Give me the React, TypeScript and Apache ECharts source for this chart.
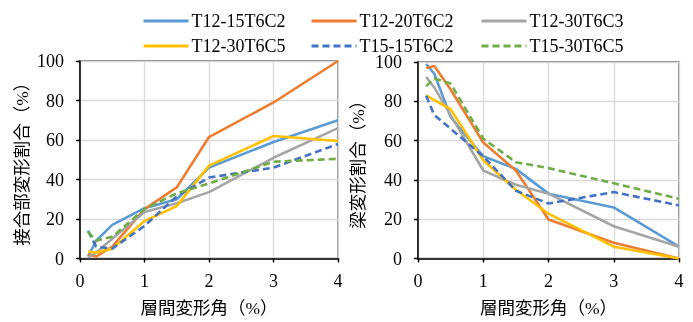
import React, { useEffect, useRef } from "react";
import * as echarts from "echarts";

const drift = [0.125, 0.25, 0.5, 1, 1.5, 2, 3, 4];
const xTicks = [0, 1, 2, 3, 4];
const yTicks = [0, 20, 40, 60, 80, 100];

const names = ["T12-15T6C2", "T12-20T6C2", "T12-30T6C3", "T12-30T6C5", "T15-15T6C2", "T15-30T6C5"];

// 接合部変形割合 (%)
const jointT12_15T6C2 = [1, 9, 17, 25.5, 30, 46, 59, 70];
const jointT12_20T6C2 = [2, 1, 6, 25, 36, 61.5, 79, 100];
const jointT12_30T6C3 = [0.5, 3, 10, 23.5, 28, 33.6, 51, 66];
const jointT12_30T6C5 = [3.5, 3, 5, 19, 26.5, 47, 62, 59.5];
const jointT15_15T6C2 = [14, 6, 5, 16.5, 31.5, 41, 46, 58];
const jointT15_30T6C5 = [13.5, 9, 11, 25, 33, 38, 49, 50.5];

// 梁変形割合 (%)
const beamT12_15T6C2 = [99, 94, 72, 52, 45.6, 33, 26, 6];
const beamT12_20T6C2 = [97, 98, 86, 59, 44.8, 19.8, 8, 0];
const beamT12_30T6C3 = [92.4, 87, 73, 44.8, 37.5, 33, 16.4, 6];
const beamT12_30T6C5 = [83, 80.6, 76, 50, 35, 22.8, 6, 0];
const beamT15_15T6C2 = [82.8, 73, 66, 52, 34.5, 28, 33.8, 27];
const beamT15_30T6C5 = [87.7, 91.6, 89, 61, 49, 46, 38.3, 30.4];

const jointData = [jointT12_15T6C2, jointT12_20T6C2, jointT12_30T6C3, jointT12_30T6C5, jointT15_15T6C2, jointT15_30T6C5];
const beamData = [beamT12_15T6C2, beamT12_20T6C2, beamT12_30T6C3, beamT12_30T6C5, beamT15_15T6C2, beamT15_30T6C5];

const colors = ["#5B9BD5", "#ED7D31", "#A5A5A5", "#FFC000", "#4472C4", "#70AD47"];
const dashed = [false, false, false, false, true, true];

const SERIF = "Times New Roman, Liberation Serif, DejaVu Serif, serif";
const CJK = "Times New Roman, Liberation Serif, Noto Sans CJK JP, sans-serif";

export default function App() {
  const ref = useRef<HTMLDivElement>(null);
  useEffect(() => {
    if (!ref.current) return;
    const chart = echarts.init(ref.current, undefined, { renderer: "svg" });

    const grids = [
      { left: 80, top: 61, width: 258, height: 199.5, show: true, borderColor: "#595959", borderWidth: 1.3, backgroundColor: "transparent" },
      { left: 418, top: 62, width: 261, height: 199, show: true, borderColor: "#595959", borderWidth: 1.3, backgroundColor: "transparent" },
    ];

    const xAxes: any[] = [];
    const yAxes: any[] = [];
    [0, 1].forEach((g) => {
      xAxes.push({
        type: "value", gridIndex: g, min: xTicks[0], max: xTicks[xTicks.length - 1], interval: 1,
        name: "層間変形角（%）", nameLocation: "middle", nameGap: 41,
        nameTextStyle: { fontFamily: CJK, fontSize: 17.5, color: "#000" },
        axisLine: { show: true, lineStyle: { color: "#000", width: 1.5 } },
        axisTick: { show: true, length: 4, lineStyle: { color: "#000", width: 1.3 } },
        axisLabel: { fontFamily: SERIF, fontSize: 18, color: "#000", margin: 13 },
        splitLine: { show: true, lineStyle: { color: "#D9D9D9", width: 1.3 } },
      });
      xAxes.push({
        type: "value", gridIndex: g, min: xTicks[0], max: xTicks[xTicks.length - 1], interval: 1,
        axisLine: { show: false }, axisLabel: { show: false }, splitLine: { show: false },
        axisTick: { show: true, inside: true, length: 3, lineStyle: { color: "#000", width: 1.3 } },
      });
      yAxes.push({
        type: "value", gridIndex: g, min: yTicks[0], max: yTicks[yTicks.length - 1], interval: 20,
        name: g === 0 ? "接合部変形割合（%）" : "梁変形割合（%）",
        nameLocation: "middle", nameRotate: 90, nameGap: g === 0 ? 49 : 51,
        nameTextStyle: { fontFamily: CJK, fontSize: 17.5, color: "#000" },
        axisLine: { show: true, lineStyle: { color: "#000", width: 1.5 } },
        axisTick: { show: true, length: 4, lineStyle: { color: "#000", width: 1.3 } },
        axisLabel: { fontFamily: SERIF, fontSize: 18, color: "#000", margin: 16 },
        splitLine: { show: true, lineStyle: { color: "#D9D9D9", width: 1.3 } },
      });
      yAxes.push({
        type: "value", gridIndex: g, min: yTicks[0], max: yTicks[yTicks.length - 1], interval: 20,
        axisLine: { show: false }, axisLabel: { show: false }, splitLine: { show: false },
        axisTick: { show: true, inside: true, length: 3, lineStyle: { color: "#000", width: 1.3 } },
      });
    });

    const series: any[] = [];
    [jointData, beamData].forEach((set, g) => {
      set.forEach((vals, i) => {
        series.push({
          type: "line",
          name: names[i],
          xAxisIndex: g * 2,
          yAxisIndex: g * 2,
          symbol: "none",
          showSymbol: false,
          data: vals.map((v, k) => [drift[k], v]),
          lineStyle: { color: colors[i], width: 2.6, type: dashed[i] ? [7, 4] : "solid" },
          itemStyle: { color: colors[i] },
        });
      });
    });

    const legendCols = [
      { left: 137, data: [names[0], names[3]] },
      { left: 305, data: [names[1], names[4]] },
      { left: 475, data: [names[2], names[5]] },
    ];

    chart.setOption({
      animation: false,
      color: colors,
      legend: legendCols.map((c) => ({
        left: c.left, top: 7, orient: "vertical", itemGap: 7,
        itemWidth: 45, itemHeight: 14, data: c.data,
        itemStyle: { opacity: 0, borderWidth: 0 },
        lineStyle: { width: 3 },
        textStyle: { fontFamily: SERIF, fontSize: 18, color: "#000", lineHeight: 18, padding: [0, 0, 0, -2] },
      })),
      grid: grids,
      xAxis: xAxes,
      yAxis: yAxes,
      series,
    });

    return () => chart.dispose();
  }, []);

  return <div ref={ref} style={{ position: "fixed", left: 0, top: 0, width: 693, height: 322 }} />;
}
